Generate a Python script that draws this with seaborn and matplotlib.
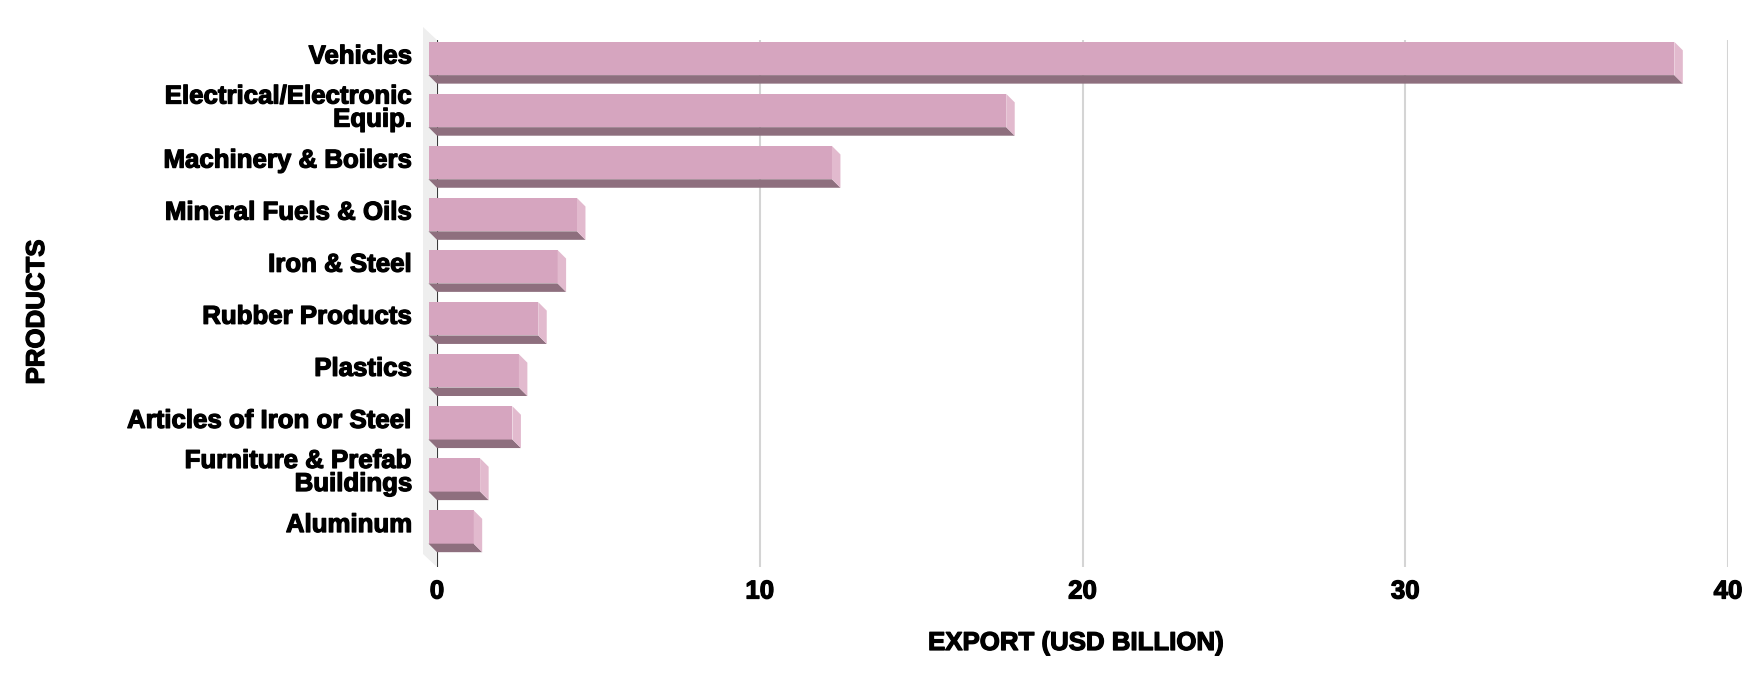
import pandas as pd
import matplotlib
matplotlib.use('Agg')
import matplotlib.pyplot as plt
import matplotlib.patheffects as pe
import matplotlib.transforms as mtransforms
import seaborn as sns
from matplotlib.patches import Polygon

### Data
products = ['Vehicles', 'Electrical/Electronic\nEquip.', 'Machinery & Boilers',
            'Mineral Fuels & Oils', 'Iron & Steel', 'Rubber Products', 'Plastics',
            'Articles of Iron or Steel', 'Furniture & Prefab\nBuildings', 'Aluminum']
export_bn = [38.6, 17.9, 12.5, 4.6, 4.0, 3.4, 2.8, 2.6, 1.6, 1.4]
xticks = [0, 10, 20, 30, 40]

front_col = '#d6a5bf'
bottom_col = '#8e6f7e'
side_col = '#e2bace'

sns.set_theme(style='white')
plt.rcParams['font.family'] = ['Liberation Sans', 'DejaVu Sans']
plt.rcParams['font.weight'] = 'bold'

df = pd.DataFrame({'product': products, 'export': export_bn})

W, H = 1760, 683
fig = plt.figure(figsize=(W / 100, H / 100), dpi=100)
ax = fig.add_axes([437 / W, (H - 567) / H, (1728 - 437) / W, (567 - 40) / H])

sns.barplot(data=df, x='export', y='product', orient='h', color=front_col,
            saturation=1, width=0.64, linewidth=0, ax=ax, zorder=3)

ylim_top, ylim_bot = -0.355, 9.768
ax.set_xlim(0, 40)
ax.set_ylim(ylim_bot, ylim_top)

### 3D look: pixel depth converted to data units
px_x = (1728 - 437) / 40
px_y = (567 - 40) / (ylim_bot - ylim_top)
dx, dy = 8.5 / px_x, 8.5 / px_y

for p in list(ax.patches):
    x0, w = p.get_x(), p.get_width()
    y0, h = p.get_y(), p.get_height()
    p.set_x(x0 - dx)
    p.set_clip_on(False)
    bottom = Polygon([(x0 - dx, y0 + h), (x0 - dx + w, y0 + h), (x0 + w, y0 + h + dy), (x0, y0 + h + dy)],
                     closed=True, facecolor=bottom_col, edgecolor='none', zorder=3, clip_on=False)
    side = Polygon([(x0 - dx + w, y0), (x0 + w, y0 + dy), (x0 + w, y0 + h + dy), (x0 - dx + w, y0 + h)],
                   closed=True, facecolor=side_col, edgecolor='none', zorder=3, clip_on=False)
    ax.add_patch(bottom)
    ax.add_patch(side)

# left wall
wx, wy = 14 / px_x, 13 / px_y
wall = Polygon([(-wx, ylim_top - wy), (0, ylim_top), (0, ylim_bot), (-wx, ylim_bot - wy)],
               closed=True, facecolor='#eeeeee', edgecolor='none', zorder=0.5, clip_on=False)
ax.add_patch(wall)

ax.set_xticks(xticks)
ax.grid(axis='x', color='#d4d4d4', lw=1.5)
ax.grid(axis='y', visible=False)
ax.set_axisbelow(True)
ax.axvline(0, color='#3a3a3a', lw=1.5, zorder=1.5)
for s in ax.spines.values():
    s.set_visible(False)

heavy = [pe.withStroke(linewidth=0.9, foreground='black')]
fs = 18.6

ax.tick_params(axis='both', length=0, labelsize=fs, labelcolor='black')
ax.tick_params(axis='x', pad=9)
ax.tick_params(axis='y', pad=18)
shift_up = mtransforms.ScaledTranslation(0, 4.5 / 100, fig.dpi_scale_trans)
for lab in ax.get_yticklabels():
    lab.set_linespacing(0.95)
    lab.set_fontweight('bold')
    lab.set_path_effects(heavy)
    lab.set_transform(lab.get_transform() + shift_up)
for lab in ax.get_xticklabels():
    lab.set_fontweight('bold')
    lab.set_path_effects(heavy)

ax.set_xlabel('EXPORT (USD BILLION)', fontsize=fs, fontweight='bold', color='black', va='center',
              path_effects=heavy)
ax.xaxis.set_label_coords((1076 - 437) / 1291, (567 - 643) / 527)
ax.set_ylabel('PRODUCTS', fontsize=fs, fontweight='bold', color='black', va='center',
              path_effects=heavy)
ax.yaxis.set_label_coords((37 - 437) / 1291, (567 - 312) / 527)

fig.savefig('out.png', dpi=100)
